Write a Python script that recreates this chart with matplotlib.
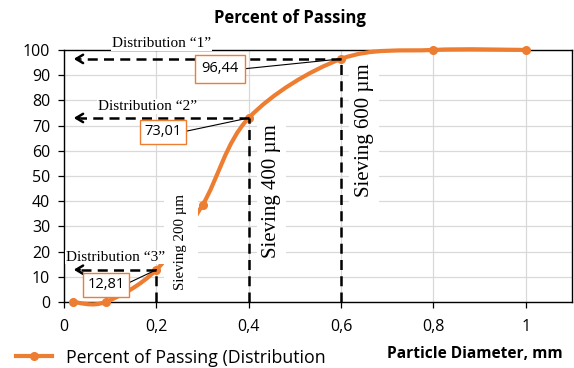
import matplotlib
matplotlib.use('agg')
import matplotlib.pyplot as plt
from matplotlib.path import Path
from matplotlib.patches import PathPatch
from matplotlib.lines import Line2D
import numpy as np

# data
diameter = [0.02, 0.09, 0.2, 0.3, 0.4, 0.6, 0.8, 1.0]
passing = [0, 0, 12.81, 38.5, 73.01, 96.44, 100, 100]
sieves = [0.2, 0.4, 0.6]
sieve_values = [12.81, 73.01, 96.44]
sieve_labels = ['Sieving 200 µm', 'Sieving 400 µm', 'Sieving 600 µm']
dist_labels = ['Distribution \u201c3\u201d', 'Distribution \u201c2\u201d', 'Distribution \u201c1\u201d']
value_labels = ['12,81', '73,01', '96,44']
x_ticks = [0, 0.2, 0.4, 0.6, 0.8, 1.0]
x_tick_labels = ['0', '0,2', '0,4', '0,6', '0,8', '1']
y_ticks = list(range(0, 101, 10))

orange = '#ED7D31'
sans = 'Open Sans'
serif = 'Liberation Serif'

fig = plt.figure(figsize=(5.74, 3.68), dpi=100)
ax = fig.add_axes([0.1115, 0.1793, 0.885, 0.685])
ax.set_xlim(0, 1.1)
ax.set_ylim(0, 100)

ax.grid(True, color='#d9d9d9', lw=0.9)
ax.set_axisbelow(True)
for s in ax.spines.values():
    s.set_color('black')
    s.set_linewidth(1.0)
ax.set_xticks(x_ticks)
ax.set_xticklabels(x_tick_labels)
ax.set_yticks(y_ticks)
ax.tick_params(labelsize=11.5, length=4, width=0.9, color='black', pad=6)
ax.tick_params(axis='x', pad=8)
for lab in ax.get_xticklabels() + ax.get_yticklabels():
    lab.set_family(sans)

# smoothed line (Excel-like bezier through the data points)
pts = np.column_stack([diameter, passing])
n = len(pts)
verts = [pts[0]]
codes = [Path.MOVETO]
for i in range(n - 1):
    p0 = pts[max(i - 1, 0)]
    p1 = pts[i]
    p2 = pts[i + 1]
    p3 = pts[min(i + 2, n - 1)]
    c1 = p1 + (p2 - p0) / 6
    c2 = p2 - (p3 - p1) / 6
    verts += [c1, c2, p2]
    codes += [Path.CURVE4] * 3
ax.add_patch(PathPatch(Path(verts, codes), fill=False, edgecolor=orange,
                       lw=3, capstyle='round', zorder=3, clip_on=False))
ax.plot(diameter, passing, ls='none', marker='o', ms=5.5, color=orange, zorder=4,
        clip_on=False)
handle = Line2D([], [], color=orange, lw=3, marker='o', ms=5.5)

# dashed guides and arrows
dash = dict(color='black', lw=1.8, dashes=(4, 2.5), zorder=5)
for xs, ys in zip(sieves, sieve_values):
    ax.plot([xs, xs], [0, ys], **dash)
    ax.plot([xs, 0.035], [ys, ys], **dash)
    ax.annotate('', xy=(0.015, ys), xytext=(0.04, ys),
                arrowprops=dict(arrowstyle='->,head_length=0.5,head_width=0.3',
                                color='black', lw=1.8), zorder=6)

# rotated sieving labels
rot_pos = [(0.2525, 24.0), (0.449, 43.8), (0.65, 68.0)]
rot_size = [10.8, 15, 15]
rot_pad = [0.7, 0.25, 0.25]
for (xr, yr), fs, pd_, txt in zip(rot_pos, rot_size, rot_pad, sieve_labels):
    ax.text(xr, yr, txt, family=serif, fontsize=fs, rotation=90, ha='center', va='center',
            zorder=7, bbox=dict(boxstyle='square,pad=%s' % pd_, fc='white', ec='none'))

# Distribution labels
dist_pos = [(0.112, 17.8), (0.18, 77.5), (0.211, 102.4)]
for (xd, yd), txt in zip(dist_pos, dist_labels):
    ax.text(xd, yd, txt, family=serif, fontsize=11, ha='center', va='center',
            zorder=9, clip_on=False,
            bbox=dict(boxstyle='square,pad=0.05', fc='white', ec='none'))

# value boxes with leader lines
box_pos = [(0.092, 6.8), (0.214, 67.5), (0.338, 92.5)]
box_pad = [0.3, 0.3, 0.45]
lead_start = [(0.139, 7.5), (0.263, 67.7), (0.389, 92.5)]
for (xb, yb), pd_, (xl, yl), xs, ys, txt in zip(box_pos, box_pad, lead_start, sieves,
                                               sieve_values, value_labels):
    ax.plot([xl, xs], [yl, ys], color='black', lw=0.8, zorder=6)
    ax.text(xb, yb, txt, family=sans, fontsize=10.5, ha='center', va='center', zorder=8,
            bbox=dict(boxstyle='square,pad=%s' % pd_, fc='white', ec=orange, lw=1.0))

fig.text(0.505, 0.951, 'Percent of Passing', ha='center', va='center',
         fontsize=12, fontweight='bold', family=sans)
fig.text(0.981, 0.038, 'Particle Diameter, mm', ha='right', va='center',
         fontsize=11.2, fontweight='bold', family=sans)
fig.legend(handles=[handle], labels=['Percent of Passing (Distribution'],
           loc='lower left', bbox_to_anchor=(0.0, -0.04), frameon=False,
           prop=dict(family=sans, size=12.8), handlelength=2.0, handletextpad=0.8)

fig.savefig('out.png', dpi=100)
